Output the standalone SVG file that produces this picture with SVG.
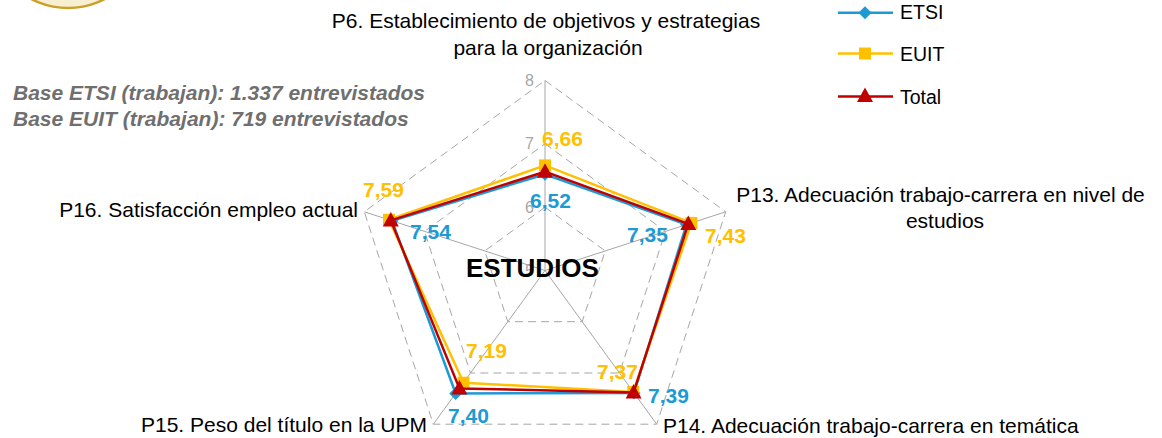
<svg xmlns="http://www.w3.org/2000/svg" width="1162" height="438" viewBox="0 0 1162 438">
<defs>
<style>
text{font-family:"Liberation Sans",Arial,sans-serif}
.ax{font-size:21px;fill:#000}
.base{font-size:21px;font-weight:bold;font-style:italic;fill:#6f6f6f}
.tick{font-size:16px;fill:#a6a6a6;text-anchor:end}
.val{font-size:21px;font-weight:bold}
.b{fill:#1c9ad6}
.y{fill:#ffc000}
.leg{font-size:19.5px;fill:#000}
.grid{fill:none;stroke:#a6a6a6;stroke-width:1;stroke-dasharray:8,5}
.axis{stroke:#a6a6a6;stroke-width:1}
.sb{fill:none;stroke:#1c9ad6;stroke-width:2.5;stroke-linejoin:round}
.sy{fill:none;stroke:#ffc000;stroke-width:2.5;stroke-linejoin:round}
.sr{fill:none;stroke:#c00000;stroke-width:2.5;stroke-linejoin:round}
</style>
<path id="dia" d="M0,-6.5 L6.5,0 L0,6.5 L-6.5,0 Z" fill="#1c9ad6"/>
<rect id="sq" x="-6" y="-6" width="12" height="12" fill="#ffc000"/>
<path id="tri" d="M0,-8.5 L8,6 L-8,6 Z" fill="#c00000"/>
</defs>
<rect width="1162" height="438" fill="#fff"/>

<g id="logo">
<circle cx="68" cy="-72" r="80" fill="#f8efd2" stroke="#c9a02a" stroke-width="2.5"/>
</g>

<g id="grid">
<polygon class="grid" points="545,80.5 725.7,211.8 656.7,424.2 433.3,424.2 364.3,211.8"/>
<polygon class="grid" points="545,143.8 665.5,231.4 619.5,373 470.5,373 424.5,231.4"/>
<polygon class="grid" points="545,207.2 605.2,250.9 582.2,321.7 507.8,321.7 484.8,250.9"/>
<line class="axis" x1="545" y1="270.5" x2="545" y2="80.5"/>
<line class="axis" x1="545" y1="270.5" x2="725.7" y2="211.8"/>
<line class="axis" x1="545" y1="270.5" x2="656.7" y2="424.2"/>
<line class="axis" x1="545" y1="270.5" x2="433.3" y2="424.2"/>
<line class="axis" x1="545" y1="270.5" x2="364.3" y2="211.8"/>
<text class="tick" x="534" y="86">8</text>
<text class="tick" x="534" y="149">7</text>
<text class="tick" x="534" y="213">6</text>
<text class="tick" x="534" y="276">5</text>
</g>

<g id="series">
<g id="ETSI">
<polygon class="sb" points="545,174.2 686.5,224.5 634,393 455.7,393.5 392,220.8"/>
<use href="#dia" x="545" y="174.2"/><use href="#dia" x="686.5" y="224.5"/><use href="#dia" x="634" y="393"/><use href="#dia" x="455.7" y="393.5"/><use href="#dia" x="392" y="220.8"/>
</g>
<g id="EUIT">
<polygon class="sy" points="545,165.4 691.4,222.9 633.2,391.9 463.5,382.7 389,219.8"/>
<use href="#sq" x="545" y="165.4"/><use href="#sq" x="691.4" y="222.9"/><use href="#sq" x="633.2" y="391.9"/><use href="#sq" x="463.5" y="382.7"/><use href="#sq" x="389" y="219.8"/>
</g>
<g id="Total">
<polygon class="sr" points="545,171.7 688.3,223.9 633.6,392.4 459.4,388.4 390.8,220.4"/>
<use href="#tri" x="545" y="171.7"/><use href="#tri" x="688.3" y="223.9"/><use href="#tri" x="633.6" y="392.4"/><use href="#tri" x="459.4" y="388.4"/><use href="#tri" x="390.8" y="220.4"/>
</g>
</g>

<g id="values">
<text class="val y" x="542" y="146">6,66</text>
<text class="val b" x="530" y="208">6,52</text>
<text class="val y" x="363" y="196.5">7,59</text>
<text class="val b" x="410" y="239">7,54</text>
<text class="val b" x="627" y="241.5">7,35</text>
<text class="val y" x="705" y="242.5">7,43</text>
<text class="val y" x="466" y="358">7,19</text>
<text class="val y" x="597" y="379">7,37</text>
<text class="val b" x="648" y="402.5">7,39</text>
<text class="val b" x="448" y="422.5">7,40</text>
</g>

<g id="center-label">
<text x="532.5" y="276.5" text-anchor="middle" style="font-size:26px;font-weight:bold;fill:#000">ESTUDIOS</text>
</g>

<g id="axis-labels">
<g id="P6"><text class="ax" x="546" y="28" text-anchor="middle">P6. Establecimiento de objetivos y estrategias</text>
<text class="ax" x="548" y="55" text-anchor="middle">para la organización</text></g>
<g id="P13"><text class="ax" x="940.5" y="201.5" text-anchor="middle">P13. Adecuación trabajo-carrera en nivel de</text>
<text class="ax" x="945" y="228" text-anchor="middle">estudios</text></g>
<g id="P14"><text class="ax" x="663" y="433">P14. Adecuación trabajo-carrera en temática</text></g>
<g id="P15"><text class="ax" x="427" y="432" text-anchor="end">P15. Peso del título en la UPM</text></g>
<g id="P16"><text class="ax" x="358" y="217" text-anchor="end">P16. Satisfacción empleo actual</text></g>
</g>

<g id="base-note">
<text class="base" x="13" y="100">Base ETSI (trabajan): 1.337 entrevistados</text>
<text class="base" x="13" y="126">Base EUIT (trabajan): 719 entrevistados</text>
</g>

<g id="legend">
<g id="leg-ETSI"><line x1="838" y1="12.7" x2="893" y2="12.7" stroke="#1c9ad6" stroke-width="2.5"/><use href="#dia" x="865" y="12.7"/><text class="leg" x="900" y="19">ETSI</text></g>
<g id="leg-EUIT"><line x1="838" y1="53.5" x2="893" y2="53.5" stroke="#ffc000" stroke-width="2.5"/><use href="#sq" x="865" y="53.5"/><text class="leg" x="900" y="60.5">EUIT</text></g>
<g id="leg-Total"><line x1="838" y1="96.5" x2="893" y2="96.5" stroke="#c00000" stroke-width="2.5"/><use href="#tri" x="865" y="96"/><text class="leg" x="900" y="103.5">Total</text></g>
</g>
</svg>
